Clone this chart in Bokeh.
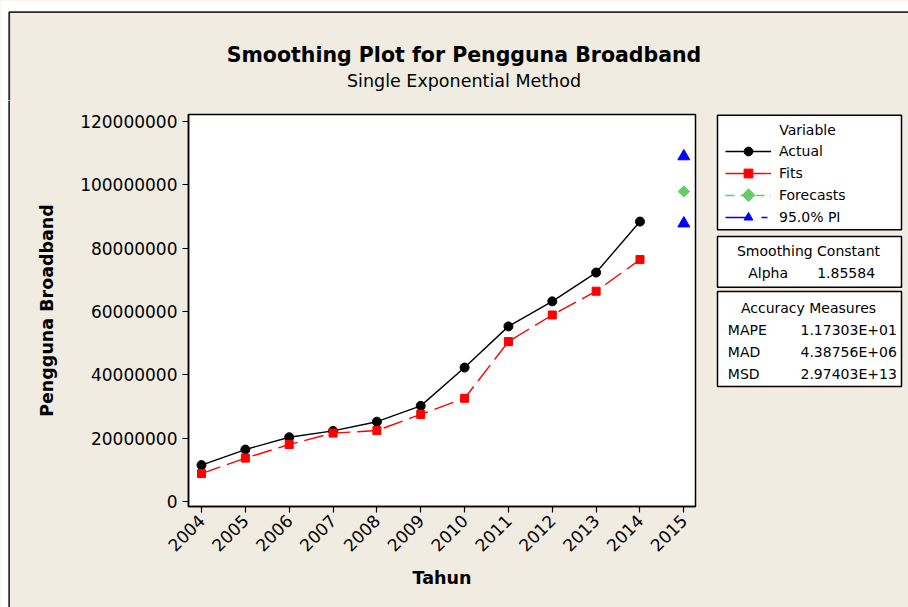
import math
from bokeh.plotting import figure
from bokeh.layouts import column, row
from bokeh.models import (Range1d, FixedTicker, BasicTickFormatter, Legend, LegendItem)
from bokeh.core.properties import value
from bokeh.embed import file_html
from bokeh.resources import INLINE

# ---------------- data ----------------
years = [2004, 2005, 2006, 2007, 2008, 2009, 2010, 2011, 2012, 2013, 2014]
actual = [11.5e6, 16.4e6, 20.3e6, 22.3e6, 25.2e6, 30.2e6, 42.3e6, 55.3e6, 63.2e6, 72.3e6, 88.4e6]
fits = [8.8e6, 13.7e6, 18.0e6, 21.6e6, 22.4e6, 27.5e6, 32.6e6, 50.5e6, 58.9e6, 66.4e6, 76.4e6]
forecast_year = [2015]
forecast = [97.9e6]
pi_upper = [109.0e6]
pi_lower = [87.8e6]

x_ticks = [2004, 2005, 2006, 2007, 2008, 2009, 2010, 2011, 2012, 2013, 2014, 2015]
y_ticks = [0, 20000000, 40000000, 60000000, 80000000, 100000000, 120000000]

title_text = "Smoothing Plot for Pengguna Broadband"
subtitle_text = "Single Exponential Method"
x_label = "Tahun"
y_label = "Pengguna Broadband"
legend_title = "Variable"
legend_labels = ["Actual", "Fits", "Forecasts", "95.0% PI"]
smoothing_title = "Smoothing Constant"
smoothing_names = ["Alpha"]
smoothing_values = ["1.85584"]
accuracy_title = "Accuracy Measures"
accuracy_names = ["MAPE", "MAD", "MSD"]
accuracy_values = ["1.17303E+01", "4.38756E+06", "2.97403E+13"]

# ---------------- style ----------------
FONT = "DejaVu Sans"
BG = "#F0ECE2"
EDGE = "#2a2a2a"
RED = "#FF0000"
GREEN = "#66CC66"
BLUE = "#0000FF"

ACT_LINE = dict(line_color="black", line_width=1.4)
ACT_MARK = dict(marker="circle", size=9, color="black")
FIT_LINE = dict(line_color=RED, line_width=1.4, line_dash="20 7")
FIT_MARK = dict(marker="square", size=8, color=RED)
FC_LINE = dict(line_color=GREEN, line_width=1.4, line_dash="9 6")
FC_MARK = dict(marker="square", angle=math.pi / 4, size=8, color=GREEN)
PI_LINE = dict(line_color=BLUE, line_width=1.4, line_dash="22 14 6 10")
PI_MARK = dict(marker="triangle", size=12, color=BLUE)

TOP_H = 100
LEFT_W = 10
RIGHT_W = 200
TOTAL_W = 908
TOTAL_H = 607
NAN = float("nan")


def blank(w, h, x0, x1, y0, y1, fill=BG):
    f = figure(width=w, height=h, x_range=Range1d(x0, x1), y_range=Range1d(y1, y0),
               output_backend="svg", toolbar_location=None, min_border=0,
               background_fill_color=fill, border_fill_color=fill, outline_line_color=None,
               frame_align=False)
    f.axis.visible = False
    f.grid.visible = False
    return f


# ---------------- top strip: title ----------------
T = blank(TOTAL_W, TOP_H, 0, TOTAL_W, 0, TOP_H, fill="white")
T.quad(left=[8.7], right=[TOTAL_W + 5], top=[11.7], bottom=[TOP_H + 5], fill_color=BG, line_color=None)
T.line(x=[8.7, 8.7, TOTAL_W + 5], y=[TOP_H + 5, 11.7, 11.7], line_color=EDGE, line_width=1.8)
T.text(x=[463.5], y=[54], text=[title_text], text_font=value(FONT), text_font_size="20.5px",
       text_font_style="bold", text_align="center", text_baseline="middle", text_color="black")
T.text(x=[463.5], y=[80], text=[subtitle_text], text_font=value(FONT), text_font_size="17.5px",
       text_align="center", text_baseline="middle", text_color="black")

# ---------------- left strip: page edge ----------------
L = blank(LEFT_W, TOTAL_H - TOP_H, 0, LEFT_W, TOP_H, TOTAL_H, fill="white")
L.quad(left=[8.7], right=[LEFT_W + 5], top=[TOP_H - 5], bottom=[TOTAL_H + 5], fill_color=BG, line_color=None)
L.line(x=[8.7, 8.7], y=[TOP_H - 5, TOTAL_H + 5], line_color=EDGE, line_width=1.8)

# ---------------- main chart ----------------
M = figure(frame_width=507, frame_height=392,
           min_border_left=178, min_border_top=14, min_border_right=13, min_border_bottom=101,
           x_range=Range1d(2003.7035, 2015.266), y_range=Range1d(-1.579e6, 122.21e6),
           output_backend="svg", toolbar_location=None, frame_align=False,
           border_fill_color=BG, background_fill_color="white")
M.grid.visible = False
M.outline_line_color = "black"
M.outline_line_width = 1.5

for ax in (M.xaxis[0], M.yaxis[0]):
    ax.major_tick_out = 6
    ax.major_tick_in = 0
    ax.minor_tick_line_color = None
    ax.axis_line_color = "black"
    ax.axis_line_width = 1.5
    ax.major_tick_line_color = "black"
    ax.major_tick_line_width = 1.2
    ax.major_label_text_font = FONT
    ax.major_label_text_font_size = "17px"
    ax.major_label_text_color = "black"
    ax.axis_label_text_font = FONT
    ax.axis_label_text_font_size = "17.5px"
    ax.axis_label_text_font_style = "bold"
    ax.axis_label_text_color = "black"

M.xaxis.ticker = FixedTicker(ticks=x_ticks)
M.xaxis.major_label_orientation = math.pi / 4
M.xaxis.axis_label = x_label
M.xaxis.axis_label_standoff = 8
M.yaxis.ticker = FixedTicker(ticks=y_ticks)
M.yaxis.formatter = BasicTickFormatter(use_scientific=False)
M.yaxis.axis_label = y_label
M.yaxis.axis_label_standoff = 20

M.line(years, actual, **ACT_LINE)
M.scatter(years, actual, **ACT_MARK)
M.line(years, fits, **FIT_LINE)
M.scatter(years, fits, **FIT_MARK)
M.line(forecast_year, forecast, **FC_LINE)
M.scatter(forecast_year, forecast, **FC_MARK)
M.line(forecast_year, pi_upper, **PI_LINE)
M.line(forecast_year, pi_lower, **PI_LINE)
M.scatter(forecast_year + forecast_year, pi_upper + pi_lower, **PI_MARK)

# ---------------- right panel: legend and statistics ----------------
x0 = TOTAL_W - RIGHT_W
R = blank(RIGHT_W, TOTAL_H - TOP_H, x0, TOTAL_W, TOP_H, TOTAL_H)
R.quad(left=[717, 717, 717], right=[901, 901, 901], top=[114.7, 236, 291], bottom=[229.3, 286.7, 386],
       fill_color="white", line_color="black", line_width=1.5)


def rtext(xs, ys, texts, align):
    R.text(x=xs, y=ys, text=texts, text_font=value(FONT), text_font_size="14px",
           text_align=align, text_baseline="middle", text_color="black")


rtext([807, 808, 808], [129, 250.7, 307.7], [legend_title, smoothing_title, accuracy_title], "center")
rtext([747.7] * len(smoothing_names), [272.3 + 22 * i for i in range(len(smoothing_names))], smoothing_names, "left")
rtext([816.7] * len(smoothing_values), [272.3 + 22 * i for i in range(len(smoothing_values))], smoothing_values, "left")
rtext([727.3] * len(accuracy_names), [329.5 + 22 * i for i in range(len(accuracy_names))], accuracy_names, "left")
rtext([800] * len(accuracy_values), [329.5 + 22 * i for i in range(len(accuracy_values))], accuracy_values, "left")

# legend layout (pixels of the right panel)
LEG_LEFT = 725
ROW_H = 22
LEG_FIRST_ROW = 150.7
LEG_GLYPH_W = 46
n_rows = len(legend_labels)
leg_bottom = LEG_FIRST_ROW + (n_rows - 1) * ROW_H + ROW_H / 2

# the rotated-square forecast symbol of the legend (the legend sample cannot rotate markers)
R.scatter(x=[LEG_LEFT + LEG_GLYPH_W / 2], y=[LEG_FIRST_ROW + 2 * ROW_H],
          marker="square", angle=math.pi / 4, size=9, color=GREEN)

# proxy renderers (one NaN point, never drawn) carrying each series' style for the legend
pa_l = R.line(x=[NAN], y=[NAN], **ACT_LINE)
pa_m = R.scatter(x=[NAN], y=[NAN], **ACT_MARK)
pf_l = R.line(x=[NAN], y=[NAN], **FIT_LINE)
pf_m = R.scatter(x=[NAN], y=[NAN], **FIT_MARK)
pc_l = R.line(x=[NAN], y=[NAN], **FC_LINE)
pp_l = R.line(x=[NAN], y=[NAN], **PI_LINE)
pp_m = R.scatter(x=[NAN], y=[NAN], **PI_MARK)

legend = Legend(items=[LegendItem(label=legend_labels[0], renderers=[pa_l, pa_m]),
                       LegendItem(label=legend_labels[1], renderers=[pf_l, pf_m]),
                       LegendItem(label=legend_labels[2], renderers=[pc_l]),
                       LegendItem(label=legend_labels[3], renderers=[pp_l, pp_m])],
                location=(LEG_LEFT - x0, TOTAL_H - leg_bottom), padding=0, margin=0, spacing=0,
                glyph_width=LEG_GLYPH_W, glyph_height=ROW_H, label_height=ROW_H, label_standoff=8,
                label_text_font=FONT, label_text_font_size="14px", label_text_color="black",
                background_fill_alpha=0, border_line_color=None)
R.add_layout(legend)

layout = column(T, row(L, M, R, spacing=0, styles={"background-color": BG}), spacing=0,
                styles={"background-color": BG})
open("out.html", "w").write(file_html(layout, INLINE))
